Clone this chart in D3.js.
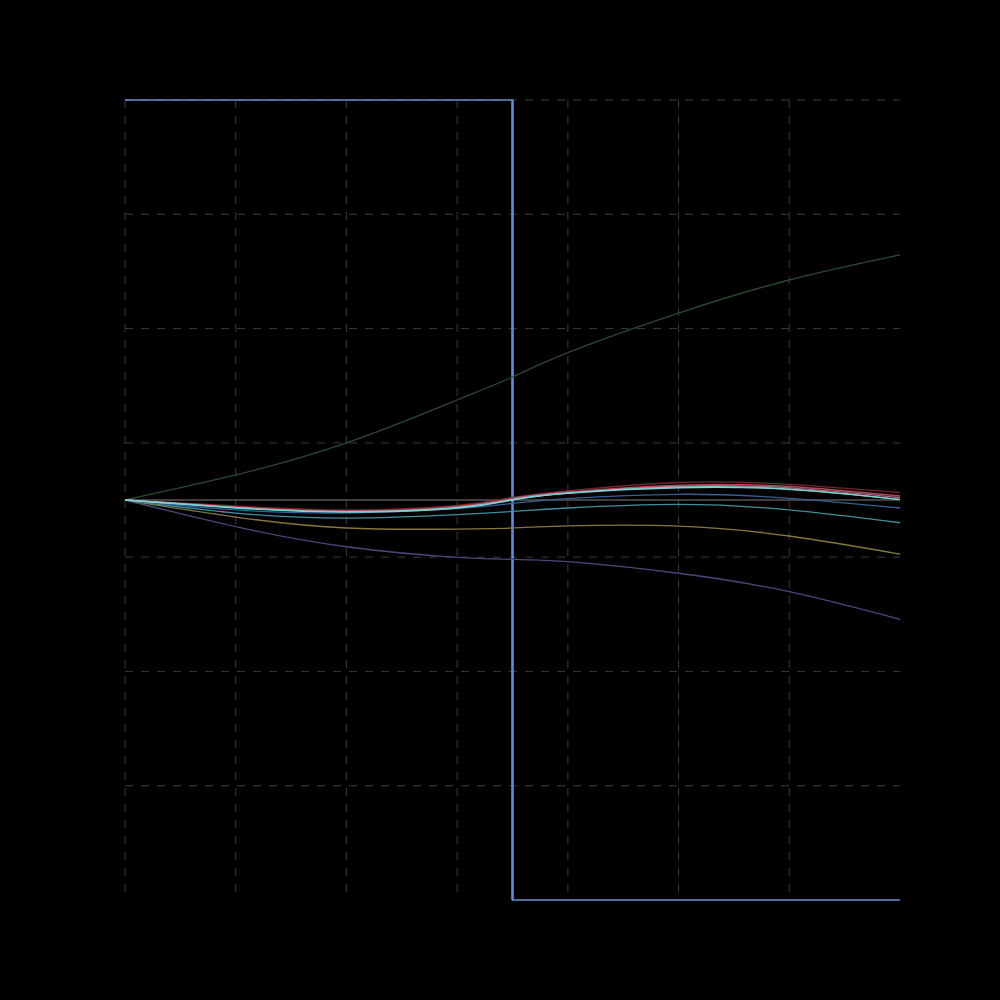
<!DOCTYPE html>
<html>
<head>
<meta charset="utf-8">
<script src="https://cdn.jsdelivr.net/npm/d3@7"></script>
<style>
  html, body { margin: 0; padding: 0; background: #000; }
</style>
</head>
<body>
<svg id="chart"></svg>
<script>
// sample times (x) and grid ticks
const times = [0, 1, 2, 3, 3.5, 4, 5, 6, 7];
const xTicks = [0, 1, 2, 3, 4, 5, 6];
const yTicks = [-2.5, -1.5, -0.5, 0.5, 1.5, 2.5, 3.5];

// step input: high until switchTime, then low
const switchTime = 3.5;
const stepHigh = 3.5;
const stepLow = -3.5;

// responses, one value per sample time
const greenVals  = [0, 0.219, 0.499, 0.875, 1.076, 1.290, 1.636, 1.925, 2.144];
const darkRed    = [0, -0.052, -0.087, -0.048, 0.022, 0.079, 0.153, 0.136, 0.064];
const redVals    = [0, -0.061, -0.096, -0.057, 0.015, 0.070, 0.131, 0.118, 0.035];
const mauveVals  = [0, -0.064, -0.099, -0.062, 0.010, 0.066, 0.122, 0.106, 0.020];
const lightGreen = [0, -0.066, -0.101, -0.066, 0.004, 0.061, 0.114, 0.096, 0.006];
const cyanVals   = [0, -0.070, -0.105, -0.070, 0.000, 0.059, 0.107, 0.093, 0.004];
const blueVals   = [0, -0.087, -0.114, -0.076, -0.030, 0.012, 0.050, 0.015, -0.070];
const tealVals   = [0, -0.114, -0.158, -0.128, -0.100, -0.070, -0.038, -0.087, -0.199];
const yellowVals = [0, -0.149, -0.245, -0.254, -0.245, -0.226, -0.228, -0.315, -0.473];
const purpleVals = [0, -0.233, -0.409, -0.502, -0.519, -0.540, -0.641, -0.802, -1.044];
const baseline   = [0, 0, 0, 0, 0, 0, 0, 0, 0];

const series = [
  { name: "baseline", values: baseline,   color: "#555555", width: 1.6 },
  { name: "green",    values: greenVals,  color: "#2c4a30", width: 1.3 },
  { name: "purple",   values: purpleVals, color: "#4a4878", width: 1.3 },
  { name: "yellow",   values: yellowVals, color: "#85773f", width: 1.3 },
  { name: "teal",     values: tealVals,   color: "#3f8e9e", width: 1.3 },
  { name: "blue",     values: blueVals,   color: "#365f96", width: 1.3 },
  { name: "darkred",  values: darkRed,    color: "#6e2630", width: 1.3 },
  { name: "red",      values: redVals,    color: "#b84452", width: 1.3 },
  { name: "mauve",    values: mauveVals,  color: "#a06a8c", width: 1.3 },
  { name: "ltgreen",  values: lightGreen, color: "#86c49a", width: 1.3 },
  { name: "cyan",     values: cyanVals,   color: "#80d0d6", width: 1.3 }
];

const margin = { top: 100, right: 100, bottom: 100, left: 125 },
    width = 1000 - margin.left - margin.right,
    height = 1000 - margin.top - margin.bottom;

const svg = d3.select("#chart")
    .attr("width", 1000)
    .attr("height", 1000)
    .style("background", "#000")
    .append("g")
    .attr("transform", `translate(${margin.left}, ${margin.top})`);

const x = d3.scaleLinear()
    .domain([0, 7])
    .range([0, width]);

const y = d3.scaleLinear()
    .domain([stepLow, stepHigh])
    .range([height, 0]);

// dashed grid
svg.selectAll(".vgrid")
    .data(xTicks)
    .enter()
    .append("line")
    .attr("x1", d => x(d))
    .attr("x2", d => x(d))
    .attr("y1", 0)
    .attr("y2", height)
    .attr("stroke", "#3a3a3a")
    .attr("stroke-width", 1)
    .attr("stroke-dasharray", "8,8");

svg.selectAll(".hgrid")
    .data(yTicks)
    .enter()
    .append("line")
    .attr("x1", 0)
    .attr("x2", width)
    .attr("y1", d => y(d))
    .attr("y2", d => y(d))
    .attr("stroke", "#3a3a3a")
    .attr("stroke-width", 1)
    .attr("stroke-dasharray", "8,8");

// step input
const stepData = [[0, stepHigh], [switchTime, stepHigh], [switchTime, stepLow], [7, stepLow]];
svg.append("path")
    .datum(stepData)
    .attr("fill", "none")
    .attr("stroke", "#6a8cca")
    .attr("stroke-width", 1.5)
    .attr("d", d3.line().x(d => x(d[0])).y(d => y(d[1])));

svg.append("line")
    .attr("x1", x(switchTime))
    .attr("x2", x(switchTime))
    .attr("y1", y(stepHigh))
    .attr("y2", y(stepLow))
    .attr("stroke", "#6a8cca")
    .attr("stroke-width", 2.5);

const line = d3.line()
    .x((d, i) => x(times[i]))
    .y(d => y(d))
    .curve(d3.curveNatural);

svg.selectAll(".resp")
    .data(series)
    .enter()
    .append("path")
    .attr("fill", "none")
    .attr("stroke", d => d.color)
    .attr("stroke-width", d => d.width)
    .attr("d", d => line(d.values));
</script>
</body>
</html>
